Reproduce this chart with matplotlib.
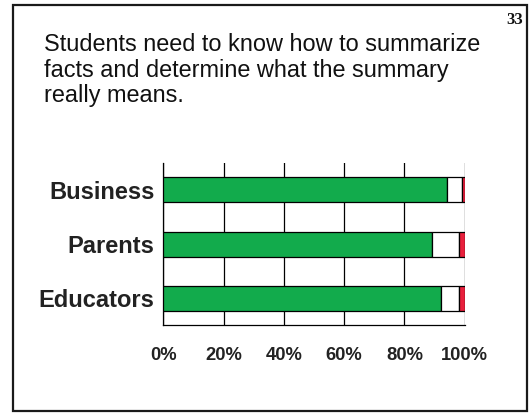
import matplotlib
matplotlib.use("Agg")
import matplotlib.pyplot as plt
from matplotlib.patches import Rectangle

# Survey responses (percent of each group)
groups = ["Business", "Parents", "Educators"]
agree = [94, 89, 92]
neutral = [5, 9, 6]
disagree = [1, 2, 2]
tick_values = [0, 20, 40, 60, 80, 100]
tick_labels = ["0%", "20%", "40%", "60%", "80%", "100%"]

title_lines = [
    "Students need to know how to summarize",
    "facts and determine what the summary",
    "really means.",
]
page_number = "33"

W, H, DPI = 532, 413, 100
fig = plt.figure(figsize=(W / DPI, H / DPI), dpi=DPI)
fig.patch.set_facecolor("white")

def fx(px):
    return px / W

def fy(py):
    return 1 - py / H

# slide frame
fig.patches.append(Rectangle((fx(13), fy(411)), fx(527) - fx(13), fy(5) - fy(411),
                             transform=fig.transFigure, fill=False,
                             edgecolor="#1a1a1a", linewidth=1.6))

fig.text(fx(523), fy(23.5), page_number, ha="right", va="baseline",
         fontsize=12, fontweight="bold", family="Liberation Serif", color="#111")

for i, line in enumerate(title_lines):
    fig.text(fx(44), fy(51 + 25.5 * i), line, ha="left", va="baseline",
             fontsize=16.9, family="Liberation Sans", color="#111")

# chart area
left, right, top, bottom = 163.3, 464.7, 163, 325
ax = fig.add_axes([fx(left), fy(bottom), fx(right) - fx(left), fy(top) - fy(bottom)])

green = "#12AB4C"
red = "#E8203C"
ypos = list(range(len(groups)))
h = 0.46
edge = dict(edgecolor="black", linewidth=0.9)

lefts2 = [a for a in agree]
lefts3 = [a + n for a, n in zip(agree, neutral)]
ax.barh(ypos, agree, height=h, color=green, zorder=3, **edge)
ax.barh(ypos, neutral, left=lefts2, height=h, color="white", zorder=3, **edge)
ax.barh(ypos, disagree, left=lefts3, height=h, color=red, zorder=3, **edge)

ax.set_xlim(0, 100)
ax.set_ylim(2.49, -0.494)
ax.set_xticks(tick_values)
ax.set_xticklabels(tick_labels)
ax.set_yticks(ypos)
ax.set_yticklabels(groups)

for v in tick_values:
    ax.axvline(v, color="black", linewidth=0.9, zorder=1)

for s in ["top", "right"]:
    ax.spines[s].set_visible(False)
ax.spines["left"].set_linewidth(0.9)
ax.spines["bottom"].set_linewidth(0.9)

ax.tick_params(axis="x", length=0, pad=16)
ax.tick_params(axis="y", length=0, pad=6.5)
for lab in ax.get_xticklabels():
    lab.set_fontfamily("Liberation Sans")
    lab.set_fontweight("bold")
    lab.set_fontsize(13.2)
    lab.set_color("#222")
for lab in ax.get_yticklabels():
    lab.set_fontfamily("Liberation Sans")
    lab.set_fontweight("bold")
    lab.set_fontsize(17)
    lab.set_color("#222")

fig.savefig("out.png", dpi=DPI)
